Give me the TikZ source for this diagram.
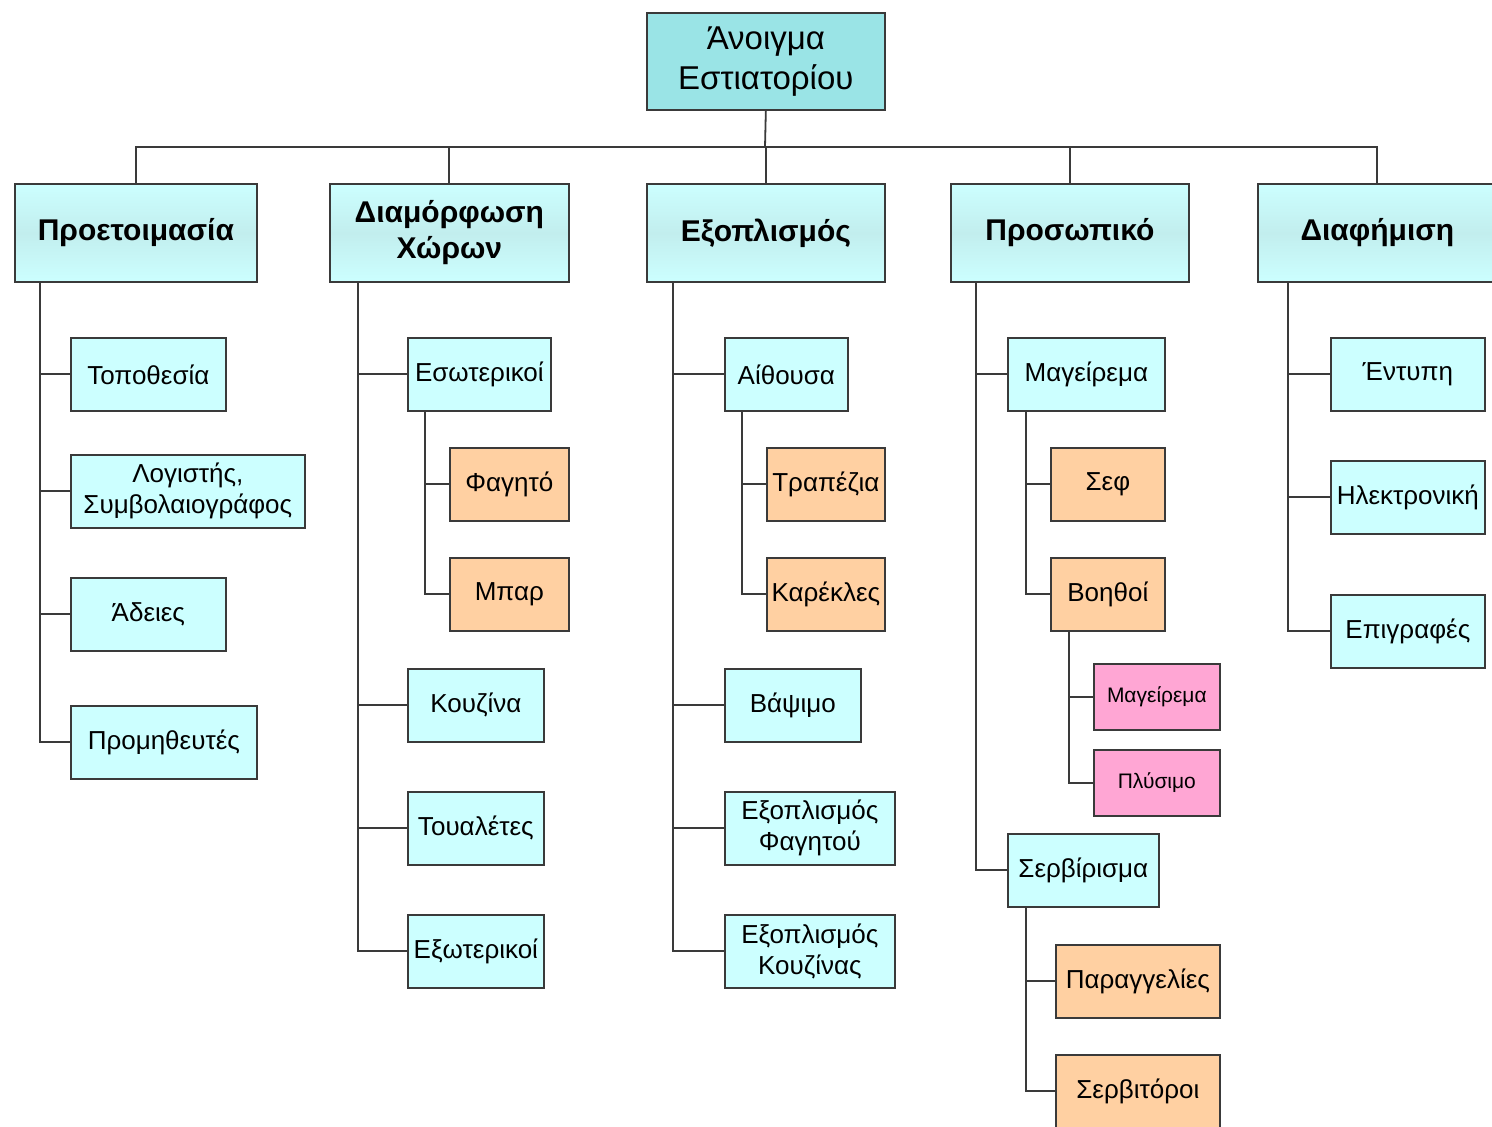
\documentclass[tikz,border=0pt]{standalone}
\usepackage{fontspec}
\setmainfont{Liberation Sans}
\definecolor{rootfill}{HTML}{9AE4E6}
\definecolor{headfill}{HTML}{CCFFFF}
\definecolor{headband}{HTML}{C2EEEE}
\definecolor{itemfill}{HTML}{CCFFFF}
\definecolor{peach}{HTML}{FFD0A2}
\definecolor{pinkfill}{HTML}{FFA6D4}
\definecolor{edge}{HTML}{3A3A3A}
\tikzset{
  box/.style={draw=edge, line width=1.7pt, inner sep=0pt, anchor=north west, align=center},
  rootbox/.style={box, fill=rootfill, minimum width=238, minimum height=97, font=\fontsize{33}{40}\selectfont},
  headbox/.style={box, top color=headfill, bottom color=headfill, middle color=headband,
    minimum width=240, minimum height=98, font=\fontsize{30}{36}\selectfont\bfseries},
  itembox/.style={box, fill=itemfill, minimum height=73, font=\fontsize{26}{31}\selectfont},
  subbox/.style={itembox, fill=peach},
  pinkbox/.style={box, fill=pinkfill, minimum height=66, font=\fontsize{21}{24}\selectfont},
  link/.style={draw=edge, line width=1.8pt}
}
\begin{document}
\begin{tikzpicture}[x=1pt,y=-1pt]
\useasboundingbox[fill=white] (0,0) rectangle (1492,1127);

% top
\node[rootbox] (root) at (646,12) {Άνοιγμα\\Εστιατορίου};
\coordinate (bus) at (765,147);

% main branches
\node[headbox, minimum width=242] (prep) at (14,183) {Προετοιμασία};
\node[headbox, minimum width=239] (space) at (329,183) {Διαμόρφωση\\Χώρων};
\node[headbox, minimum width=238] (equip) at (646,183) {Εξοπλισμός};
\node[headbox, minimum width=238] (staff) at (950,183) {Προσωπικό};
\node[headbox, minimum width=239] (ads) at (1257,183) {Διαφήμιση};

\draw[link] (root.south) -- (bus);
\foreach \h in {prep,space,equip,staff,ads}
  \draw[link] (bus) -| (\h.north);

% Προετοιμασία
\node[itembox, minimum width=155] (place) at (70,337) {Τοποθεσία};
\node[itembox, minimum width=234] (acct) at (70,454) {Λογιστής,\\Συμβολαιογράφος};
\node[itembox, minimum width=155] (perm) at (70,577) {Άδειες};
\node[itembox, minimum width=186] (supp) at (70,705) {Προμηθευτές};
\foreach \c in {place,acct,perm,supp}
  \draw[link] ([xshift=26]prep.south west) |- (\c.west);

% Διαμόρφωση Χώρων
\node[itembox, minimum width=143] (inner) at (407,337) {Εσωτερικοί};
\node[subbox, minimum width=119] (food) at (449,447) {Φαγητό};
\node[subbox, minimum width=119] (bar) at (449,557) {Μπαρ};
\node[itembox, minimum width=136] (kitch) at (407,668) {Κουζίνα};
\node[itembox, minimum width=136] (wc) at (407,791) {Τουαλέτες};
\node[itembox, minimum width=136] (outer) at (407,914) {Εξωτερικοί};
\foreach \c in {inner,kitch,wc,outer}
  \draw[link] ([xshift=29]space.south west) |- (\c.west);
\foreach \c in {food,bar}
  \draw[link] ([xshift=18]inner.south west) |- (\c.west);

% Εξοπλισμός
\node[itembox, minimum width=123] (hall) at (724,337) {Αίθουσα};
\node[subbox, minimum width=118] (table) at (766,447) {Τραπέζια};
\node[subbox, minimum width=118] (chair) at (766,557) {Καρέκλες};
\node[itembox, minimum width=136] (paint) at (724,668) {Βάψιμο};
\node[itembox, minimum width=170] (foodeq) at (724,791) {Εξοπλισμός\\Φαγητού};
\node[itembox, minimum width=170] (kitcheq) at (724,914) {Εξοπλισμός\\Κουζίνας};
\foreach \c in {hall,paint,foodeq,kitcheq}
  \draw[link] ([xshift=27]equip.south west) |- (\c.west);
\foreach \c in {table,chair}
  \draw[link] ([xshift=18]hall.south west) |- (\c.west);

% Προσωπικό
\node[itembox, minimum width=157] (cook) at (1007,337) {Μαγείρεμα};
\node[subbox, minimum width=114] (chef) at (1050,447) {Σεφ};
\node[subbox, minimum width=114] (help) at (1050,557) {Βοηθοί};
\node[pinkbox, minimum width=126] (cooking) at (1093,663) {Μαγείρεμα};
\node[pinkbox, minimum width=126] (wash) at (1093,749) {Πλύσιμο};
\node[itembox, minimum width=151] (serve) at (1007,833) {Σερβίρισμα};
\node[subbox, minimum width=164] (order) at (1055,944) {Παραγγελίες};
\node[subbox, minimum width=164] (waiter) at (1055,1054) {Σερβιτόροι};
\foreach \c in {cook,serve}
  \draw[link] ([xshift=26]staff.south west) |- (\c.west);
\foreach \c in {chef,help}
  \draw[link] ([xshift=19]cook.south west) |- (\c.west);
\foreach \c in {cooking,wash}
  \draw[link] ([xshift=19]help.south west) |- (\c.west);
\foreach \c in {order,waiter}
  \draw[link] ([xshift=19]serve.south west) |- (\c.west);

% Διαφήμιση
\node[itembox, minimum width=154] (print) at (1330,337) {Έντυπη};
\node[itembox, minimum width=154] (online) at (1330,460) {Ηλεκτρονική};
\node[itembox, minimum width=154] (signs) at (1330,594) {Επιγραφές};
\foreach \c in {print,online,signs}
  \draw[link] ([xshift=31]ads.south west) |- (\c.west);
\end{tikzpicture}
\end{document}
